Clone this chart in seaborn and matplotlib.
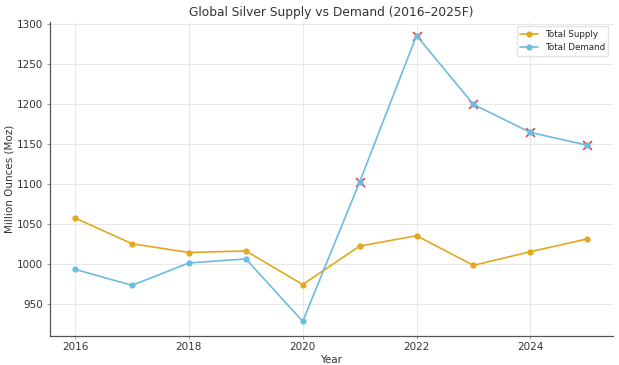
import matplotlib
matplotlib.use("Agg")
import matplotlib.pyplot as plt
import seaborn as sns
import pandas as pd

years = [2016, 2017, 2018, 2019, 2020, 2021, 2022, 2023, 2024, 2025]
supply = [1057, 1025, 1014, 1016, 974, 1022, 1035, 998, 1015, 1031]
demand = [993, 973, 1001, 1006, 928, 1102, 1285, 1199, 1164, 1148]

df = pd.DataFrame({"Year": years, "Total Supply": supply, "Total Demand": demand})
long = df.melt(id_vars="Year", var_name="Series", value_name="Value")
deficit = df[df["Total Demand"] > df["Total Supply"] + 50]

sns.set_theme(style="whitegrid")
plt.rcParams['font.family'] = ['DejaVu Sans']

fig, ax = plt.subplots(figsize=(6.19, 3.65), dpi=100)
sns.scatterplot(data=deficit, x="Year", y="Total Demand", marker="x", color="#e04040",
                s=40, linewidth=1.2, ax=ax, zorder=3, legend=False)
sns.lineplot(data=long, x="Year", y="Value", hue="Series",
             palette={"Total Supply": "#E3A81F", "Total Demand": "#6CBCE2"},
             marker="o", markersize=4.5, markeredgewidth=0, linewidth=1.2, ax=ax, zorder=4)

ax.set_title("Global Silver Supply vs Demand (2016\u20132025F)", fontsize=8.8, color="#333333", pad=4)
ax.set_xlabel("Year", fontsize=7.5, color="#333333", labelpad=2)
ax.set_ylabel("Million Ounces (Moz)", fontsize=7.5, color="#333333", labelpad=2)
ax.set_xticks([2016, 2018, 2020, 2022, 2024])
ax.set_yticks(range(950, 1301, 50))
ax.set_xlim(2015.55, 2025.45)
ax.set_ylim(910, 1302)
ax.tick_params(labelsize=7.5, labelcolor="#333333", color="#999999", length=2.5, width=0.7,
               pad=2, left=True, bottom=True)
ax.grid(True, color="#e8e8e8", linewidth=0.7)
for s in ["top", "right"]:
    ax.spines[s].set_visible(False)
for s in ["left", "bottom"]:
    ax.spines[s].set_color("#555555")
    ax.spines[s].set_linewidth(0.9)
leg = ax.legend(loc="upper right", fontsize=6.3, frameon=True, title=None)
leg.get_frame().set_edgecolor("#dddddd")

fig.subplots_adjust(left=0.08, right=0.99, top=0.94, bottom=0.08)
fig.savefig("out.png", dpi=100)
